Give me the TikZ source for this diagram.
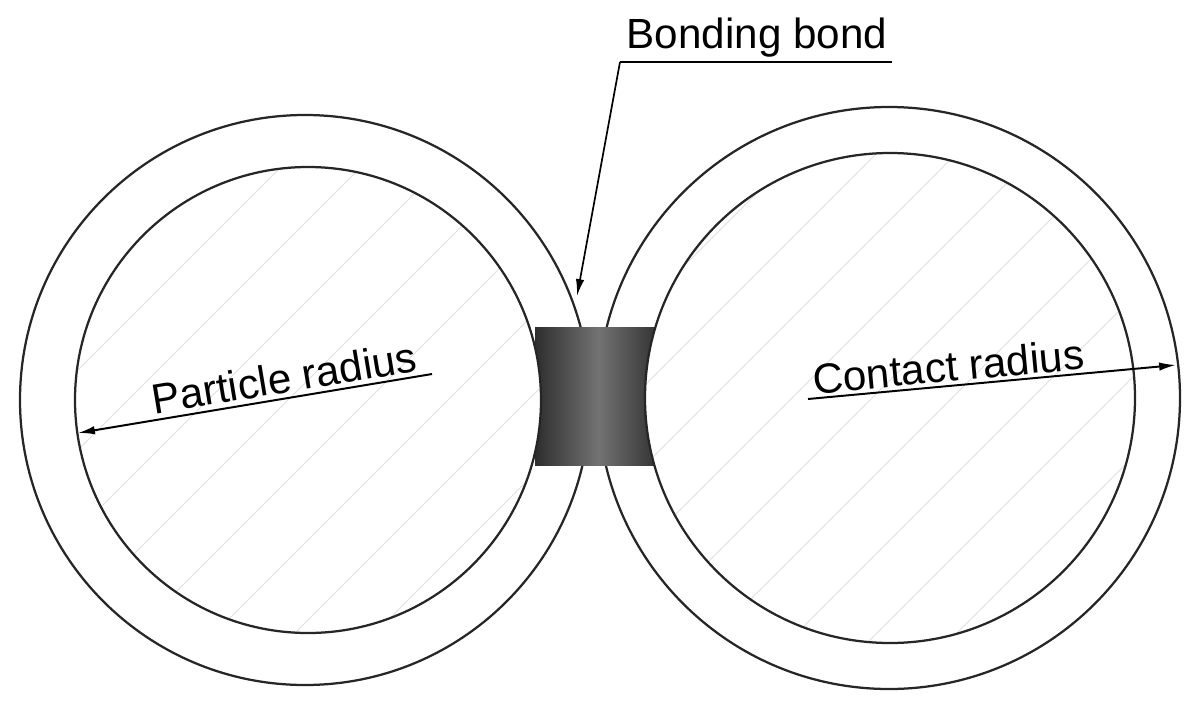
\documentclass[tikz,border=0pt]{standalone}
\usepackage{fontspec}
\setmainfont{Liberation Sans}
\usetikzlibrary{arrows.meta}
\tikzset{
  ring/.style={draw=black!85, line width=1.6pt},
  hatch/.style={draw=black!12, line width=0.6pt},
  lbl/.style={font=\fontsize{30}{35}\selectfont, inner sep=2pt},
  dim/.style={draw=black, line width=1.4pt, -{Latex[length=12pt,width=6pt]}}
}
\begin{document}
\begin{tikzpicture}[x=0.025cm,y=-0.025cm]
\useasboundingbox (0,0) rectangle (1197,704);
% outer circles
\draw[ring] (305,400) circle (285);
\draw[ring] (889,398) circle (291);
% bond
\shade[left color=black!82, right color=black!82, middle color=black!55] (535,327) rectangle (662,465);
% inner circles
\fill[white] (308,400) circle (233);
\fill[white] (890,398) circle (245);
\begin{scope}
\clip (308,400) circle (233);
\foreach \k in {-420,-340,...,420} \draw[hatch] (308+\k-300,700) -- (308+\k+300,100);
\end{scope}
\begin{scope}
\clip (890,398) circle (245);
\foreach \k in {-420,-340,...,420} \draw[hatch] (890+\k-300,700) -- (890+\k+300,100);
\end{scope}
\draw[ring] (308,400) circle (233);
\draw[ring] (890,398) circle (245);
% bonding bond label
\node[lbl] (bb) at (757,38) {Bonding bond};
\coordinate (u1) at (620,62);
\coordinate (u2) at (892,62);
\coordinate (bt) at (577,296);
\draw[line width=1.2pt] (u2) -- (u1);
\draw[line width=1.2pt, -{Latex[length=12pt,width=6pt]}] (u1) -- (bt);
% particle radius
\coordinate (p1) at (432,374);
\coordinate (p2) at (78,433);
\draw[dim] (p1) -- (p2);
\node[lbl, rotate=9.4, anchor=south] (pr) at (287,396) {Particle radius};
% contact radius
\coordinate (c1) at (808,399);
\coordinate (c2) at (1176,365);
\draw[dim] (c1) -- (c2);
\node[lbl, rotate=5.3, anchor=south] (cr) at (950,385) {Contact radius};
\end{tikzpicture}
\end{document}
